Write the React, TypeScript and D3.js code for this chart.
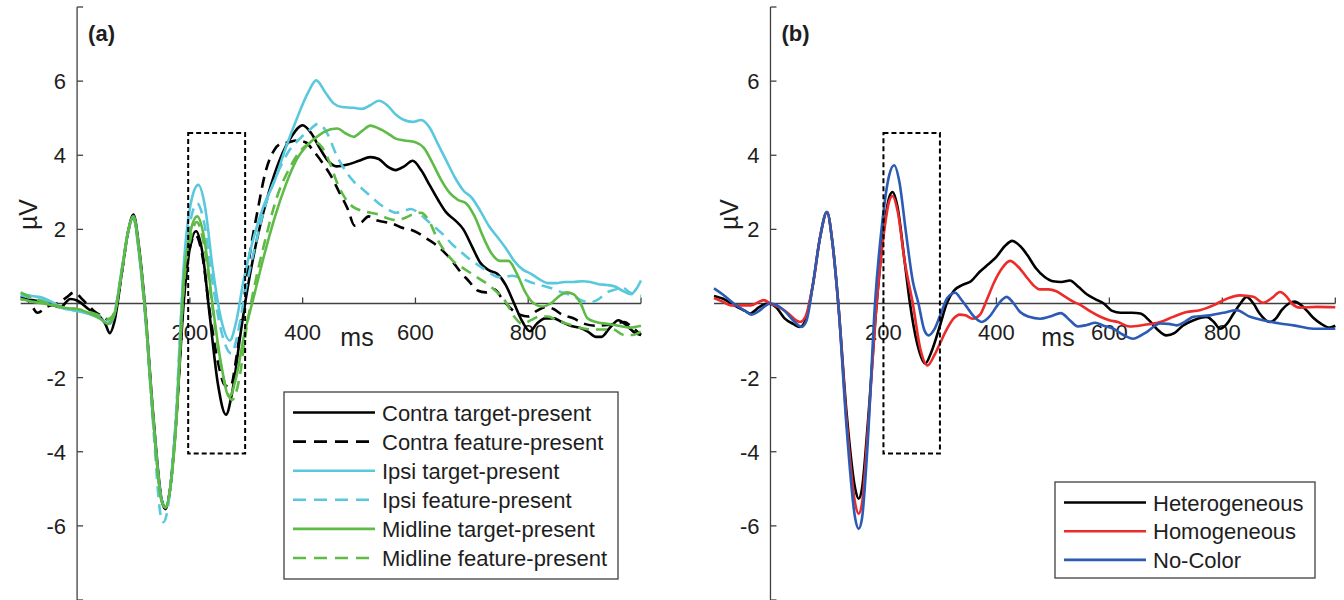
import React from 'react'
import * as d3 from 'd3'

type Pt = [number, number]

// ---- panel (a): time (ms) / amplitude (µV) pairs
const contraTarget: Pt[] = [[-100,0.12],[-75,0.08],[-50,0.0],[-30,-0.1],[-12,0.12],[0,0.08],[20,-0.15],[40,-0.35],[50,-0.55],[58,-0.8],[66,-0.5],[80,0.9],[90,1.9],[100,2.4],[110,1.5],[120,0.0],[135,-3.0],[150,-5.3],[157,-5.55],[165,-5.0],[175,-3.3],[190,0.2],[200,1.5],[211,1.95],[222,1.4],[235,-0.3],[250,-2.2],[264,-3.0],[275,-2.4],[290,-0.8],[300,0.2],[320,1.8],[340,3.0],[360,3.9],[380,4.5],[400,4.81],[415,4.6],[430,4.2],[445,3.85],[460,3.7],[480,3.75],[500,3.85],[520,3.95],[535,3.9],[550,3.7],[565,3.6],[580,3.7],[595,3.85],[610,3.6],[625,3.2],[640,2.8],[655,2.45],[670,2.25],[685,2.0],[700,1.55],[715,1.1],[730,0.9],[745,0.8],[760,0.5],[775,0.0],[790,-0.5],[803,-0.75],[815,-0.55],[830,-0.4],[845,-0.4],[860,-0.5],[875,-0.6],[890,-0.65],[905,-0.75],[920,-0.9],[930,-0.9],[945,-0.65],[960,-0.45],[975,-0.6],[990,-0.8],[1000,-0.85]]
const contraFeature: Pt[] = [[-100,0.2],[-85,0.05],[-70,-0.25],[-55,-0.1],[-35,0.0],[-20,0.15],[-5,0.3],[10,0.1],[30,-0.2],[45,-0.35],[58,-0.45],[66,-0.3],[80,0.9],[90,1.9],[100,2.35],[110,1.4],[120,-0.1],[135,-3.1],[150,-5.3],[157,-5.5],[165,-5.0],[175,-3.3],[190,0.4],[200,1.5],[210,1.85],[222,1.3],[235,-0.2],[250,-1.6],[262,-2.2],[272,-2.25],[282,-1.5],[292,-0.4],[305,1.2],[320,2.5],[335,3.6],[350,4.15],[360,4.3],[375,4.35],[390,4.4],[405,4.35],[420,4.1],[435,3.8],[450,3.45],[465,3.0],[480,2.55],[492,2.1],[505,2.2],[517,2.35],[530,2.25],[545,2.2],[560,2.15],[575,2.05],[590,2.0],[605,1.9],[620,1.75],[635,1.6],[650,1.4],[665,1.15],[680,0.85],[695,0.6],[710,0.35],[725,0.3],[740,0.38],[755,0.1],[770,-0.15],[785,-0.3],[800,-0.35],[815,-0.2],[830,-0.1],[845,-0.15],[860,-0.3],[880,-0.4],[900,-0.55],[920,-0.6],[940,-0.58],[955,-0.55],[970,-0.5],[985,-0.65],[1000,-0.85]]
const ipsiTarget: Pt[] = [[-100,0.26],[-80,0.2],[-60,0.15],[-40,0.0],[-25,-0.12],[0,-0.2],[20,-0.28],[40,-0.4],[58,-0.55],[66,-0.3],[80,1.0],[90,1.9],[100,2.35],[110,1.4],[120,-0.1],[135,-3.1],[150,-5.3],[157,-5.5],[165,-5.0],[175,-3.2],[190,1.2],[203,2.8],[215,3.2],[227,2.6],[240,1.0],[255,-0.4],[271,-1.0],[282,-0.5],[295,0.6],[310,1.6],[330,2.6],[350,3.3],[370,4.2],[390,5.0],[410,5.7],[424,6.02],[440,5.7],[455,5.4],[470,5.3],[490,5.28],[505,5.25],[520,5.35],[535,5.47],[550,5.35],[565,5.1],[580,4.95],[595,4.9],[610,4.95],[625,4.75],[640,4.3],[655,3.85],[670,3.4],[685,3.05],[700,2.85],[715,2.5],[730,2.1],[745,1.8],[760,1.5],[775,1.15],[790,0.92],[805,0.8],[820,0.65],[835,0.55],[850,0.55],[865,0.58],[880,0.58],[895,0.6],[910,0.58],[925,0.52],[940,0.5],[955,0.45],[970,0.32],[982,0.25],[992,0.4],[1000,0.62]]
const ipsiFeature: Pt[] = [[-100,0.22],[-80,0.15],[-60,0.08],[-40,-0.05],[-20,-0.15],[0,-0.2],[20,-0.25],[40,-0.35],[58,-0.45],[66,-0.25],[80,0.95],[90,1.9],[100,2.3],[110,1.3],[120,-0.2],[135,-3.3],[148,-5.7],[153,-5.9],[160,-5.6],[172,-3.8],[190,1.0],[202,2.3],[213,2.7],[225,2.2],[240,0.6],[255,-0.7],[274,-1.35],[285,-0.8],[298,0.3],[315,1.5],[335,2.7],[355,3.5],[375,4.1],[395,4.45],[410,4.65],[428,4.85],[445,4.55],[460,4.0],[475,3.6],[490,3.3],[505,3.1],[520,2.9],[535,2.7],[550,2.55],[565,2.45],[580,2.5],[592,2.55],[605,2.45],[620,2.25],[635,2.05],[650,1.85],[665,1.6],[680,1.4],[700,1.15],[720,0.95],[740,0.75],[755,0.7],[770,0.75],[785,0.7],[800,0.6],[820,0.5],[840,0.42],[860,0.3],[880,0.2],[895,0.08],[910,0.03],[925,0.12],[940,0.3],[955,0.38],[965,0.45],[980,0.3],[1000,0.2]]
const midTarget: Pt[] = [[-100,0.12],[-80,0.05],[-60,0.0],[-40,-0.05],[-20,-0.12],[0,-0.15],[20,-0.25],[40,-0.4],[55,-0.55],[66,-0.3],[80,0.95],[90,1.9],[100,2.35],[110,1.4],[120,-0.1],[135,-3.1],[150,-5.35],[157,-5.5],[165,-5.0],[175,-3.4],[190,0.8],[202,2.0],[213,2.35],[225,1.8],[240,0.0],[255,-1.6],[270,-2.52],[282,-2.0],[297,-0.8],[312,0.1],[330,1.2],[350,2.3],[370,3.2],[390,3.9],[410,4.3],[430,4.55],[450,4.7],[462,4.72],[475,4.6],[490,4.5],[505,4.65],[520,4.8],[535,4.72],[550,4.6],[565,4.45],[580,4.4],[600,4.35],[615,4.2],[630,3.8],[645,3.35],[660,3.0],[675,2.8],[690,2.7],[705,2.35],[720,1.8],[735,1.35],[750,1.15],[765,1.15],[780,0.8],[795,0.3],[810,0.0],[825,-0.08],[840,0.0],[855,0.2],[868,0.3],[880,0.25],[893,0.0],[905,-0.4],[920,-0.5],[940,-0.55],[960,-0.6],[980,-0.65],[1000,-0.6]]
const midFeature: Pt[] = [[-100,0.3],[-80,0.15],[-60,0.05],[-40,-0.05],[-20,-0.12],[0,-0.15],[20,-0.22],[40,-0.32],[55,-0.42],[66,-0.25],[80,0.95],[90,1.9],[100,2.3],[110,1.4],[120,-0.1],[135,-3.1],[150,-5.35],[157,-5.5],[165,-5.0],[175,-3.4],[190,0.6],[202,1.8],[212,2.2],[225,1.6],[240,-0.1],[258,-1.9],[275,-2.6],[288,-2.0],[300,-0.7],[315,0.5],[335,1.8],[355,2.9],[375,3.6],[395,4.1],[410,4.3],[422,4.35],[435,4.2],[448,3.8],[460,3.3],[475,2.85],[490,2.6],[505,2.5],[520,2.45],[535,2.4],[550,2.3],[565,2.25],[580,2.3],[595,2.4],[610,2.45],[625,2.2],[640,1.7],[655,1.35],[670,1.1],[685,0.95],[700,0.8],[715,0.65],[730,0.5],[745,0.3],[760,0.05],[775,-0.35],[790,-0.55],[805,-0.45],[820,-0.35],[835,-0.35],[850,-0.45],[870,-0.55],[890,-0.65],[910,-0.7],[930,-0.7],[950,-0.7],[970,-0.85],[985,-0.85],[1000,-0.75]]

// ---- panel (b)
const hetero: Pt[] = [[-100,0.2],[-80,0.1],[-64,-0.05],[-45,-0.2],[-36,-0.27],[-20,-0.1],[-5,0.0],[10,-0.1],[25,-0.4],[40,-0.55],[52,-0.63],[62,-0.45],[75,0.5],[88,1.8],[100,2.47],[110,1.6],[120,0.0],[135,-3.0],[150,-5.0],[156,-5.27],[162,-5.0],[172,-3.3],[188,0.0],[200,1.9],[210,2.85],[216,3.01],[225,2.6],[237,1.2],[247,0.0],[260,-1.1],[274,-1.62],[285,-1.3],[300,-0.6],[312,0.0],[325,0.35],[340,0.5],[355,0.6],[370,0.85],[385,1.05],[400,1.26],[415,1.55],[428,1.69],[442,1.55],[455,1.3],[470,0.95],[485,0.72],[500,0.6],[515,0.58],[530,0.62],[545,0.45],[560,0.25],[575,0.12],[590,0.0],[605,-0.2],[620,-0.25],[640,-0.25],[655,-0.27],[670,-0.45],[685,-0.7],[701,-0.86],[715,-0.8],[730,-0.6],[749,-0.45],[772,-0.36],[785,-0.5],[796,-0.68],[808,-0.55],[820,-0.27],[832,0.0],[843,0.18],[855,0.0],[866,-0.27],[884,-0.5],[895,-0.4],[905,-0.18],[918,0.0],[928,0.05],[940,-0.05],[950,-0.2],[962,-0.4],[975,-0.55],[990,-0.65],[1000,-0.6]]
const homo: Pt[] = [[-100,0.15],[-85,0.05],[-70,-0.05],[-50,-0.05],[-35,-0.05],[-20,0.05],[-12,0.09],[0,0.0],[15,-0.1],[30,-0.25],[45,-0.45],[52,-0.5],[62,-0.35],[75,0.5],[88,1.8],[100,2.47],[110,1.6],[120,0.0],[135,-3.2],[150,-5.4],[156,-5.67],[162,-5.4],[172,-3.5],[188,0.0],[200,1.8],[210,2.75],[216,2.9],[225,2.5],[238,1.1],[252,0.0],[265,-1.2],[278,-1.67],[290,-1.4],[300,-1.08],[312,-0.7],[324,-0.41],[335,-0.3],[345,-0.32],[358,-0.41],[371,-0.3],[383,0.1],[395,0.54],[410,0.95],[424,1.15],[438,1.0],[453,0.72],[465,0.5],[477,0.38],[492,0.38],[506,0.33],[520,0.2],[536,0.05],[550,-0.05],[565,-0.2],[583,-0.35],[600,-0.45],[615,-0.5],[636,-0.62],[660,-0.58],[690,-0.5],[713,-0.36],[737,-0.23],[760,-0.18],[784,-0.05],[808,0.13],[831,0.22],[855,0.18],[872,0.02],[888,0.15],[902,0.31],[913,0.2],[923,0.0],[937,-0.11],[967,-0.09],[1000,-0.1]]
const noColor: Pt[] = [[-100,0.41],[-85,0.25],[-65,0.0],[-45,-0.2],[-33,-0.3],[-20,-0.2],[-8,-0.05],[0,0.0],[12,-0.05],[25,-0.2],[40,-0.45],[55,-0.63],[64,-0.45],[75,0.5],[88,1.8],[100,2.47],[110,1.6],[120,0.0],[135,-3.4],[150,-5.8],[156,-6.08],[162,-5.8],[172,-3.8],[185,0.0],[198,2.2],[210,3.45],[219,3.73],[228,3.3],[240,1.9],[252,0.6],[262,0.0],[272,-0.7],[280,-0.86],[290,-0.7],[300,-0.34],[313,0.15],[327,0.29],[338,0.1],[348,-0.1],[360,-0.35],[374,-0.5],[388,-0.35],[400,-0.09],[410,0.1],[418,0.18],[428,0.05],[442,-0.23],[458,-0.36],[477,-0.41],[495,-0.35],[514,-0.26],[530,-0.45],[544,-0.62],[560,-0.58],[575,-0.52],[590,-0.6],[607,-0.68],[625,-0.85],[642,-0.95],[655,-0.87],[666,-0.77],[690,-0.54],[705,-0.55],[719,-0.59],[735,-0.48],[749,-0.36],[778,-0.32],[802,-0.25],[825,-0.18],[849,-0.36],[872,-0.45],[902,-0.54],[926,-0.59],[961,-0.68],[1000,-0.68]]

const xTicks = [200, 400, 600, 800]
const yTicks = [-8, -6, -4, -2, 2, 4, 6, 8]
const yLabels = [-6, -4, -2, 2, 4, 6]

interface Series {
  label: string
  data: Pt[]
  color: string
  dashed: boolean
}

const seriesA: Series[] = [
  { label: 'Contra target-present', data: contraTarget, color: '#000000', dashed: false },
  { label: 'Contra feature-present', data: contraFeature, color: '#000000', dashed: true },
  { label: 'Ipsi target-present', data: ipsiTarget, color: '#5ac8dc', dashed: false },
  { label: 'Ipsi feature-present', data: ipsiFeature, color: '#5ac8dc', dashed: true },
  { label: 'Midline target-present', data: midTarget, color: '#5dbb46', dashed: false },
  { label: 'Midline feature-present', data: midFeature, color: '#5dbb46', dashed: true }
]

const seriesB: Series[] = [
  { label: 'Heterogeneous', data: hetero, color: '#000000', dashed: false },
  { label: 'Homogeneous', data: homo, color: '#ee2b2b', dashed: false },
  { label: 'No-Color', data: noColor, color: '#2b5bb5', dashed: false }
]

const FONT = '"Liberation Sans", Arial, Helvetica, sans-serif'
const AXIS = '#404040'
const TEXT = '#1e1e1e'

interface PanelProps {
  tag: string
  series: Series[]
  xRange: [number, number]
  box: [number, number]
  msX: number
  uvX: number
  legend: { x: number; y: number; w: number; h: number; rowH: number }
}

const Panel = ({ tag, series, xRange, box, msX, uvX, legend }: PanelProps) => {
  const x = d3.scaleLinear().domain([-100, 1000]).range(xRange)
  const y = d3.scaleLinear().domain([-8, 8]).range([600, 7])
  const line = d3
    .line<Pt>()
    .x(d => x(d[0]))
    .y(d => y(d[1]))
    .curve(d3.curveMonotoneX)

  const x0 = x(0)
  const y0 = y(0)

  return (
    <g>
      {/* y axis */}
      <line x1={x0} x2={x0} y1={y(8)} y2={y(-8)} stroke={AXIS} strokeWidth={1.3} />
      {yTicks.map(t => (
        <line key={t} x1={x0} x2={x0 + 6} y1={y(t)} y2={y(t)} stroke={AXIS} strokeWidth={1.3} />
      ))}
      {yLabels.map(t => (
        <text key={t} x={x0 - 11} y={y(t) + 8} textAnchor='end' fontSize={22} fontFamily={FONT} fill={TEXT}>
          {t}
        </text>
      ))}
      {/* x axis through the origin */}
      <line x1={x(-100)} x2={x(1000)} y1={y0} y2={y0} stroke={AXIS} strokeWidth={1.3} />
      {[...xTicks, 1000].map(t => (
        <line key={t} x1={x(t)} x2={x(t)} y1={y0} y2={y0 - 6} stroke={AXIS} strokeWidth={1.3} />
      ))}
      {xTicks.map(t => (
        <text key={t} x={x(t)} y={y0 + 36} textAnchor='middle' fontSize={22} fontFamily={FONT} fill={TEXT}>
          {t}
        </text>
      ))}
      <text x={msX} y={y0 + 42} textAnchor='middle' fontSize={25} fontFamily={FONT} fill={TEXT}>
        ms
      </text>
      <text
        transform={`translate(${uvX},${y(2.4)}) rotate(-90)`}
        textAnchor='middle'
        fontSize={25}
        fontFamily={FONT}
        fill={TEXT}
      >
        µV
      </text>
      <text x={x0 + 11} y={41} fontSize={22} fontWeight='bold' fontFamily={FONT} fill={TEXT}>
        {tag}
      </text>

      {/* curves */}
      {series.map(s => (
        <path
          key={s.label}
          d={line(s.data) || ''}
          fill='none'
          stroke={s.color}
          strokeWidth={2.6}
          strokeDasharray={s.dashed ? '11,7' : undefined}
          strokeLinejoin='round'
        />
      ))}

      {/* window of interest */}
      <rect
        x={x(box[0])}
        y={y(4.6)}
        width={x(box[1]) - x(box[0])}
        height={y(-4.05) - y(4.6)}
        fill='none'
        stroke='#000'
        strokeWidth={2}
        strokeDasharray='5,3'
      />

      {/* legend */}
      <rect x={legend.x} y={legend.y} width={legend.w} height={legend.h} fill='#fff' stroke={AXIS} strokeWidth={1.3} />
      {series.map((s, i) => {
        const cy = legend.y + 20.5 + i * legend.rowH
        return (
          <g key={s.label}>
            <line
              x1={legend.x + 9}
              x2={legend.x + 91}
              y1={cy}
              y2={cy}
              stroke={s.color}
              strokeWidth={2.6}
              strokeDasharray={s.dashed ? '13,8' : undefined}
            />
            <text x={legend.x + 98} y={cy + 8} fontSize={22} fontFamily={FONT} fill={TEXT}>
              {s.label}
            </text>
          </g>
        )
      })}
    </g>
  )
}

const App = () => {
  return (
    <svg
      width={1344}
      height={600}
      style={{ position: 'absolute', left: 0, top: 0, background: '#fff' }}
    >
      <Panel
        tag='(a)'
        series={seriesA}
        xRange={[20.7, 641]}
        box={[197, 298]}
        msX={357}
        uvX={37}
        legend={{ x: 284, y: 392, w: 334, h: 187, rowH: 29.1 }}
      />
      <Panel
        tag='(b)'
        series={seriesB}
        xRange={[714, 1335.3]}
        box={[200, 300]}
        msX={1058}
        uvX={738}
        legend={{ x: 1055, y: 482, w: 260, h: 96, rowH: 28.7 }}
      />
    </svg>
  )
}

export default App
